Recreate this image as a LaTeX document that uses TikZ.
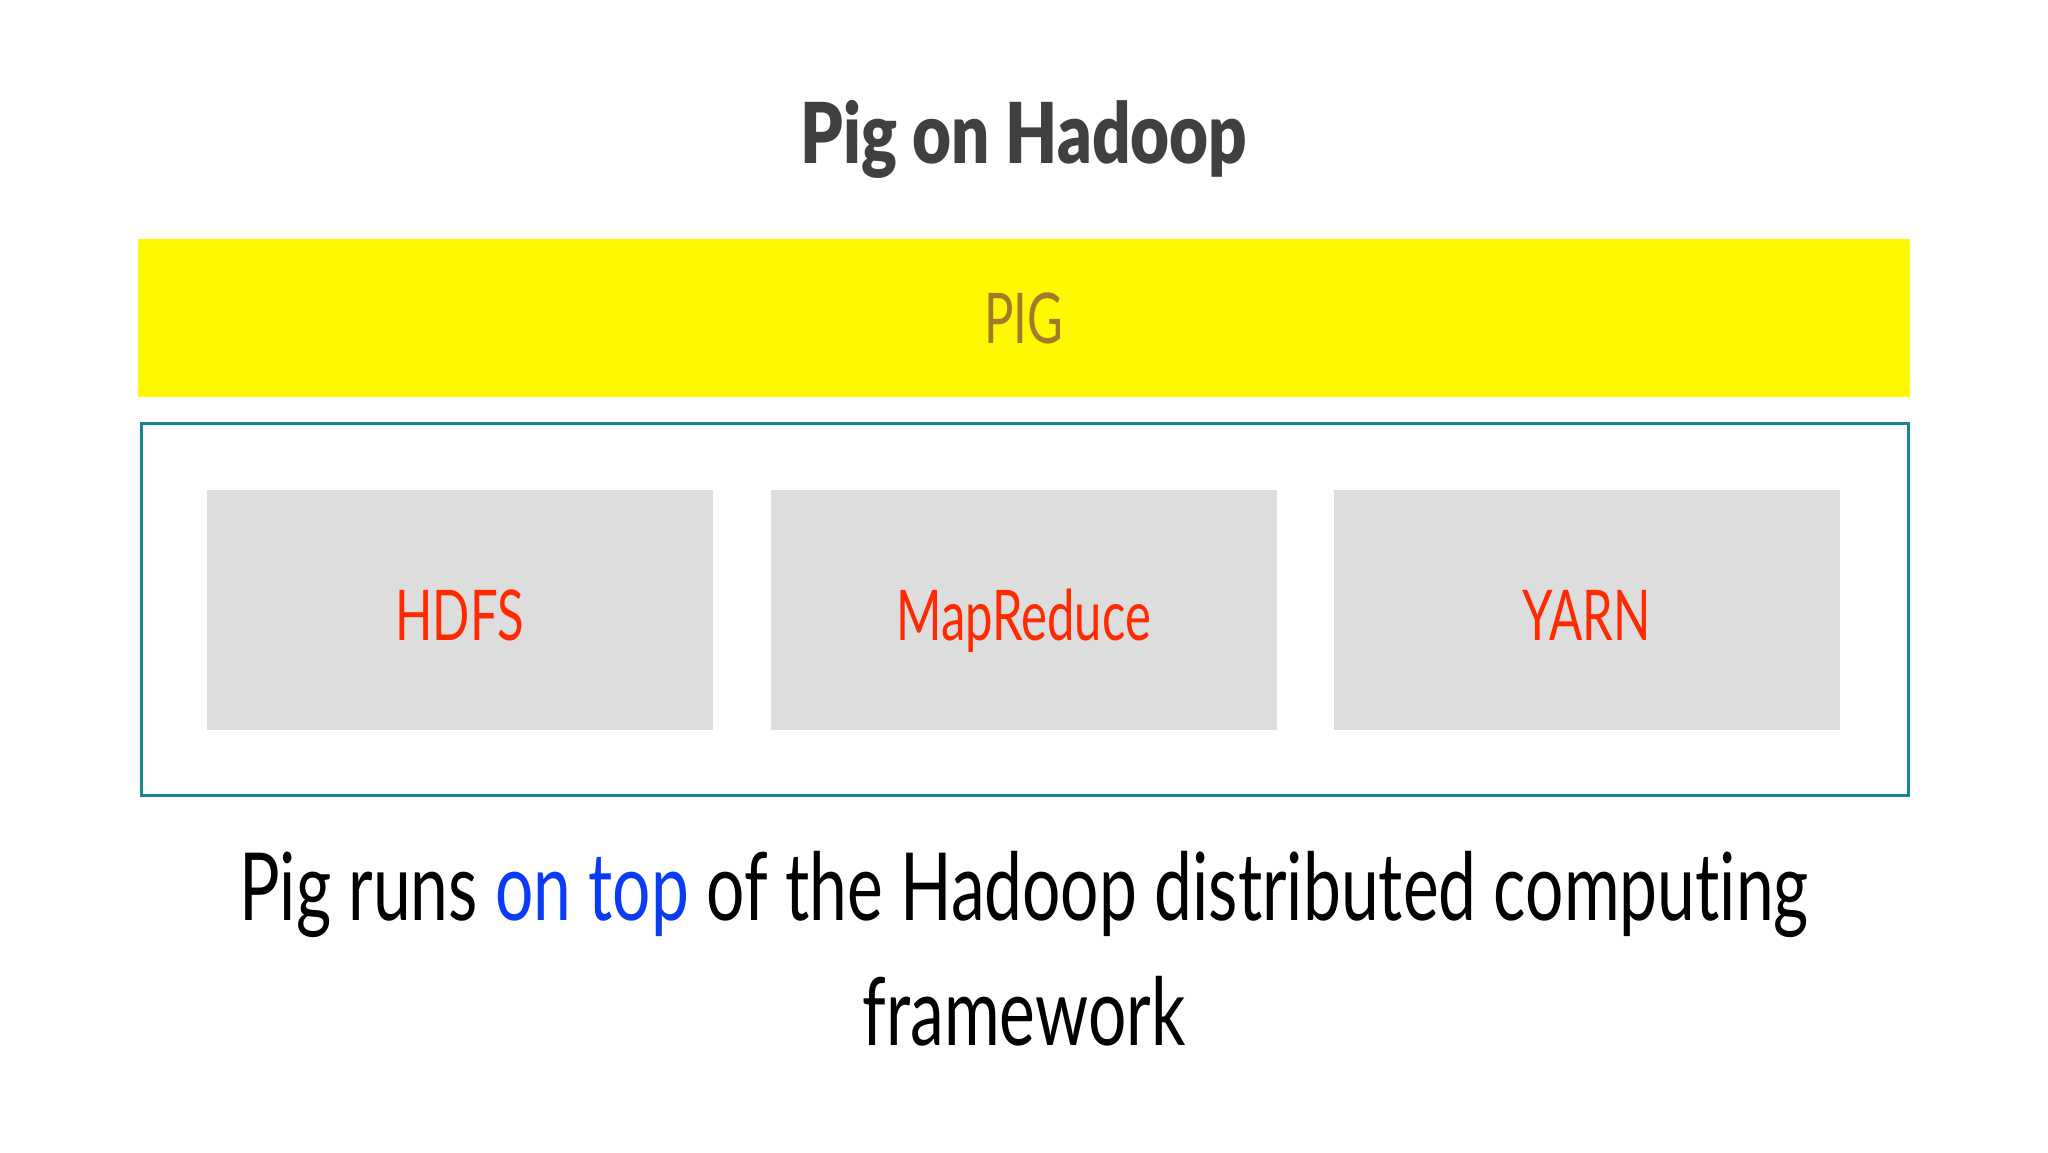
\documentclass[tikz,border=0pt]{standalone}
\usepackage{fontspec}
\setmainfont{Lato}
\newfontfamily\titlefont[FakeStretch=0.8]{Lato Black}
\newfontfamily\handfont[FakeStretch=0.72,Ligatures=NoCommon]{Lato}
\newfontfamily\boxfont[FakeStretch=0.7,Ligatures=NoCommon]{Lato}
\definecolor{teal1}{HTML}{17849A}
\definecolor{yel}{HTML}{FFF800}
\definecolor{boxgray}{HTML}{DDDDDD}
\definecolor{pigtxt}{HTML}{A37A2C}
\definecolor{redtxt}{HTML}{FF2A00}
\definecolor{bluetxt}{HTML}{0A3CF5}
\definecolor{titlegray}{HTML}{404040}
\tikzset{
  yelbox/.style={fill=yel, draw=none, minimum width=1772pt, minimum height=158pt, inner sep=0pt},
  outerbox/.style={draw=teal1, line width=3pt, fill=none, minimum width=1767pt, minimum height=372pt, inner sep=0pt},
  graybox/.style={fill=boxgray, draw=none, minimum width=506pt, minimum height=240pt, inner sep=0pt,
    text height=60pt, text depth=0pt,
    font=\boxfont\fontsize{70}{76}\selectfont, text=redtxt},
}
\begin{document}
\begin{tikzpicture}[x=1pt,y=-1pt]
\useasboundingbox[fill=white] (0,0) rectangle (2048,1152);
\node[font=\titlefont\fontsize{84}{90}\selectfont, text=titlegray] (title) at (1024,139) {Pig on Hadoop};
\node[yelbox, font=\boxfont\fontsize{70}{76}\selectfont, text=pigtxt] (pig) at (1024,318) {PIG};
\node[outerbox] (hadoop) at (1025,609.5) {};
\node[graybox] (hdfs) at (459.5,610) {HDFS};
\node[graybox] (mr) at (1023.5,610) {MapReduce};
\node[graybox] (yarn) at (1586.5,610) {YARN};
\node[font=\handfont\fontsize{94}{100}\selectfont, anchor=base] (line1) at (1024,920) {Pig runs \textcolor{bluetxt}{on top} of the Hadoop distributed computing};
\node[font=\handfont\fontsize{94}{100}\selectfont, anchor=base] (line2) at (1024,1045) {framework};
\end{tikzpicture}
\end{document}
